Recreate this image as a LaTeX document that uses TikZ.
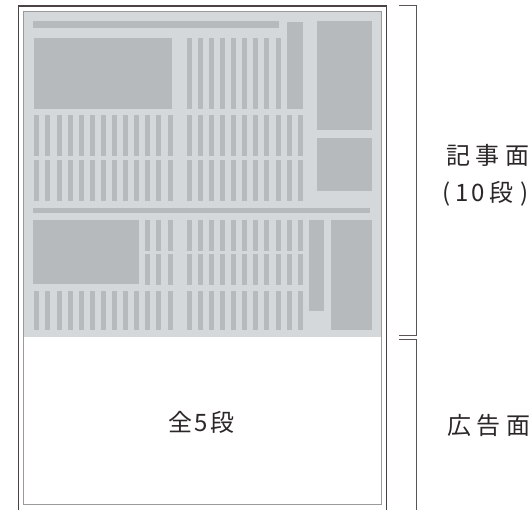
\documentclass[tikz,border=0pt]{standalone}
\usepackage{fontspec}
\newfontfamily\jp{Noto Sans CJK JP}
\definecolor{bgpanel}{HTML}{D5D8DB}
\definecolor{block}{HTML}{B7BABD}
\definecolor{frameouter}{HTML}{4A4243}
\definecolor{frameinner}{HTML}{9A9A9A}
\definecolor{bracketc}{HTML}{5A5455}
\definecolor{ink}{HTML}{2B2627}
\tikzset{
  blk/.style={fill=block},
  lbl/.style={font=\jp\fontsize{24}{30}\selectfont, text=ink, inner sep=0pt},
  brk/.style={draw=bracketc, line width=1pt},
}
\begin{document}
\begin{tikzpicture}[x=1pt,y=-1pt]
\useasboundingbox (0,0) rectangle (530,509);
% gray article panel
\fill[bgpanel] (24,11.5) rectangle (381,337.3);
% top bar
\fill[blk] (33.3,21) rectangle (279.3,27.7);
% big rect upper-left
\fill[blk] (34.3,37.7) rectangle (172.3,108.7);
% row A stripes (right group, 9)
\foreach \i in {0,...,8} \fill[blk] ({186.7+11.1*\i},37.7) rectangle ++(5,71);
% tall narrow rect
\fill[blk] (286.7,22) rectangle (302.7,108.7);
% right rects
\fill[blk] (316.7,21) rectangle (371.7,129.7);
\fill[blk] (316.7,137.7) rectangle (371.7,190.7);
% rows B, C, F: full stripes
\foreach \y/\h in {115/40.7, 160/40.7, 291/39} {
  \foreach \i in {0,...,12} \fill[blk] ({34.3+11.1*\i},\y) rectangle ++(5,\h);
  \foreach \i in {0,...,10} \fill[blk] ({186.7+11.1*\i},\y) rectangle ++(5,\h);
}
% separator
\fill[blk] (33.3,207.7) rectangle (370,212.7);
% lower-left rect
\fill[blk] (33.3,220) rectangle (138.7,283.7);
% rows D, E
\foreach \y/\h in {220/30.7, 254/30.7} {
  \foreach \i in {10,11,12} \fill[blk] ({34.3+11.1*\i},\y) rectangle ++(5,\h);
  \foreach \i in {0,...,10} \fill[blk] ({186.7+11.1*\i},\y) rectangle ++(5,\h);
}
% narrow vertical rect and right tall rect
\fill[blk] (309.3,220) rectangle (323.7,310.7);
\fill[blk] (330.7,220) rectangle (371.7,330);
% frames
\draw[frameinner, line width=1pt] (23.3,11) rectangle (381.7,504);
\draw[frameouter, line width=1.5pt] (18.3,515) -- (18.3,6) -- (386.7,6) -- (386.7,515);
% brackets
\coordinate (b1a) at (398.5,5.7);
\coordinate (b1b) at (416.7,5.7);
\coordinate (b1c) at (416.7,335);
\coordinate (b1d) at (398.5,335);
\draw[brk] (b1a) -- (b1b) -- (b1c) -- (b1d);
\coordinate (b2a) at (398.5,339.3);
\coordinate (b2b) at (416.7,339.3);
\coordinate (b2c) at (416.7,515);
\draw[brk] (b2a) -- (b2b) -- (b2c);
% labels
\node[lbl] (ad5) at (201.5,422) {全\hspace{2pt}5\hspace{2pt}段};
\node[lbl, anchor=west] (kiji) at (446,155) {記\hspace{5.5pt}事\hspace{5.5pt}面};
\node[lbl, anchor=west] (dan) at (442.5,194) {(\hspace{5pt}1\hspace{2.5pt}0\hspace{5pt}段\hspace{7pt})};
\node[lbl, anchor=west] (koukoku) at (447,425) {広\hspace{5.5pt}告\hspace{5.5pt}面};
\end{tikzpicture}
\end{document}
